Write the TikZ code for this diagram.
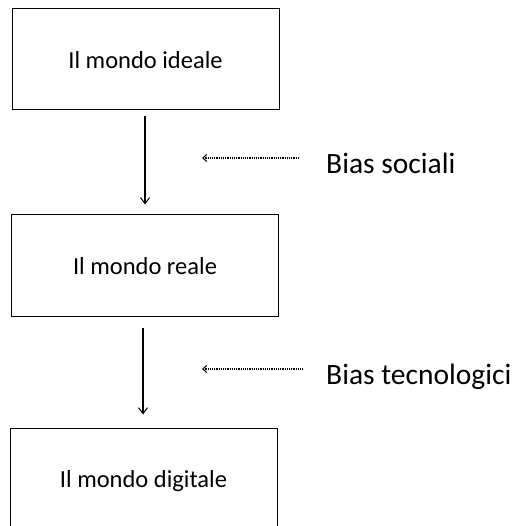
\documentclass[tikz,border=0pt]{standalone}
\usepackage{fontspec}
\setmainfont{Carlito}
\usetikzlibrary{arrows.meta}
\begin{document}
\begin{tikzpicture}[x=1pt,y=-1pt,
  worldbox/.style={draw=black,line width=1pt,minimum width=267pt,minimum height=101pt,inner sep=0pt,font=\fontsize{24.5}{28}\selectfont,text depth=0pt},
  biaslabel/.style={anchor=base west,inner sep=0pt,font=\fontsize{29.5}{34}\selectfont},
  flow/.style={-{Straight Barb[length=6pt,width=9pt,line width=1pt]},line width=1.2pt},
  biasarrow/.style={{Straight Barb[length=4pt,width=7pt,line width=1pt]}-,line width=1.2pt,densely dotted}]
\useasboundingbox (0,0) rectangle (514,526);
\clip (0,0) rectangle (514,526);
\node[worldbox] (b1) at (145.5,59.5) {Il mondo ideale};
\node[worldbox] (b2) at (145,265.5) {Il mondo reale};
\node[worldbox,minimum height=102pt] (b3) at (143.5,479) {Il mondo digitale};
\node[biaslabel] (s1) at (326,174) {Bias sociali};
\node[biaslabel] (s2) at (326,384) {Bias tecnologici};
\coordinate (t1) at (202,158);
\coordinate (t2) at (202,369);
\draw[flow,shorten <=6pt,shorten >=10pt] ([xshift=-0.5pt]b1.south) -- ([xshift=-0.5pt]b1.south |- b2.north);
\draw[flow,shorten <=11pt,shorten >=13pt] ([xshift=-2pt]b2.south) -- ([xshift=-2pt]b2.south |- b3.north);
\draw[biasarrow] (t1) -- (t1 -| 300,0);
\draw[biasarrow] (t2) -- (t2 -| 303,0);
\end{tikzpicture}
\end{document}
